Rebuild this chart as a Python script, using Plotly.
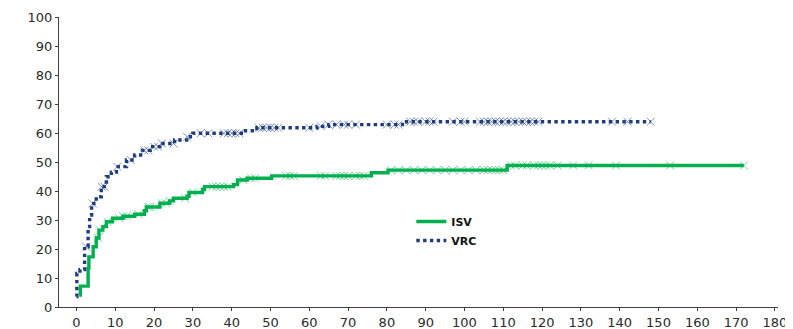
import numpy as np
import plotly.graph_objects as go

# ISV (green, solid step curve)
isv_t = [0.7, 1.0, 3.0, 3.2, 4.3, 5.1, 5.8, 6.8, 7.7, 9.3, 12, 15, 17.5, 18, 21.5, 24, 25,
         28.5, 29, 32.5, 33, 40.5, 41.5, 44, 50.3, 76, 80.3, 111, 172]
isv_v = [4.1, 7.2, 13.4, 17.3, 20.8, 23.8, 26.5, 27.7, 29.4, 30.6, 31.3, 32, 33.2, 34.5, 35.8,
         36.6, 37.5, 38.2, 39.5, 40.5, 41.5, 42.2, 43.8, 44.4, 45.2, 46.3, 47.2, 48.8, 48.8]
isv_c = [5.5, 6, 8, 11, 12, 13, 16, 18.5, 19, 22, 23, 24, 28, 30, 35, 36, 37, 38, 39, 43, 45, 46,
         54, 55, 56, 63, 64, 67, 68, 69, 70, 72, 73, 74, 81, 83, 85, 87, 89, 91, 93, 95, 97, 99,
         101, 103, 105, 106, 107, 108, 109, 110, 112, 113, 115, 116, 118, 119, 120, 121, 122, 124,
         128, 132, 139, 153, 172]

# VRC (navy, dotted step curve)
vrc_t = [0, 0.1, 0.9, 2.1, 3.0, 3.4, 3.9, 5.1, 6.4, 7.7, 9, 10.3, 12.9, 15, 17, 19, 21.5, 25.3,
         28.4, 30, 43, 46.5, 62, 65, 84, 148]
vrc_v = [3.6, 11.6, 12.9, 20.8, 27.7, 31.7, 35.7, 38, 41.5, 44.9, 46.5, 48.4, 50.7, 52.4, 54,
         55.3, 56.4, 57.6, 58.7, 59.9, 60.8, 61.8, 62.3, 62.9, 63.9, 63.9]
vrc_c = [2.5, 4.2, 6.5, 7.2, 10.5, 14, 17.5, 18.5, 20, 21, 22, 25, 28.5, 32, 34, 38, 39, 40, 41,
         42, 47, 48, 49, 50, 51, 52, 60, 63, 65, 67, 69, 70, 72, 80, 82, 83, 86, 87, 88, 90, 91,
         92, 97, 99, 100, 104, 105, 106, 107, 108, 109, 110, 111, 112, 113, 114, 115, 116, 117,
         118, 119, 138, 142, 148]

x_ticks = list(range(0, 181, 10))
y_ticks = list(range(0, 101, 10))

GREEN = "#00B04F"
NAVY = "#1F3C7F"


def step_at(times, vals, c):
    t = np.asarray(times)
    v = np.asarray(vals)
    idx = np.searchsorted(t, np.asarray(c), side="right") - 1
    idx = np.clip(idx, 0, len(v) - 1)
    return v[idx]


fig = go.Figure()
fig.add_trace(go.Scatter(x=isv_t, y=isv_v, mode="lines", name="ISV",
                         line=dict(color=GREEN, width=3.4, shape="hv")))
fig.add_trace(go.Scatter(x=vrc_t, y=vrc_v, mode="lines", name="VRC",
                         line=dict(color=NAVY, width=3.4, shape="hv", dash="dot")))
fig.add_trace(go.Scatter(x=isv_c, y=step_at(isv_t, isv_v, isv_c), mode="markers",
                         showlegend=False, cliponaxis=False,
                         marker=dict(symbol="x-thin-open", size=8, opacity=0.55, color=GREEN,
                                     line=dict(color=GREEN, width=1))))
fig.add_trace(go.Scatter(x=vrc_c, y=step_at(vrc_t, vrc_v, vrc_c), mode="markers",
                         showlegend=False, cliponaxis=False,
                         marker=dict(symbol="x-thin-open", size=8, opacity=0.55, color=NAVY,
                                     line=dict(color=NAVY, width=1))))

axis_common = dict(showline=True, linecolor="#404040", linewidth=1, ticks="outside",
                   ticklen=3, tickcolor="#404040", showgrid=False, zeroline=False,
                   automargin=False,
                   tickfont=dict(family="DejaVu Sans", size=13, color="#2a2a2a"))
fig.update_xaxes(range=[-4.5, 180.8], tickvals=x_ticks, ticktext=[str(v) for v in x_ticks],
                 **axis_common)
fig.update_yaxes(range=[0, 100], tickvals=y_ticks, ticktext=[str(v) for v in y_ticks],
                 **axis_common)

# page has an 8px body margin, so the figure is 8px smaller and margins shifted
fig.update_layout(
    width=785, height=321,
    margin=dict(l=51, r=15, t=9, b=22),
    plot_bgcolor="white", paper_bgcolor="white",
    legend=dict(x=0.49, y=0.345, xanchor="left", yanchor="top",
                font=dict(family="DejaVu Sans", size=11, color="#111", weight="bold"),
                bgcolor="rgba(0,0,0,0)", tracegroupgap=0, itemwidth=30),
)

fig.write_html("out.html")
